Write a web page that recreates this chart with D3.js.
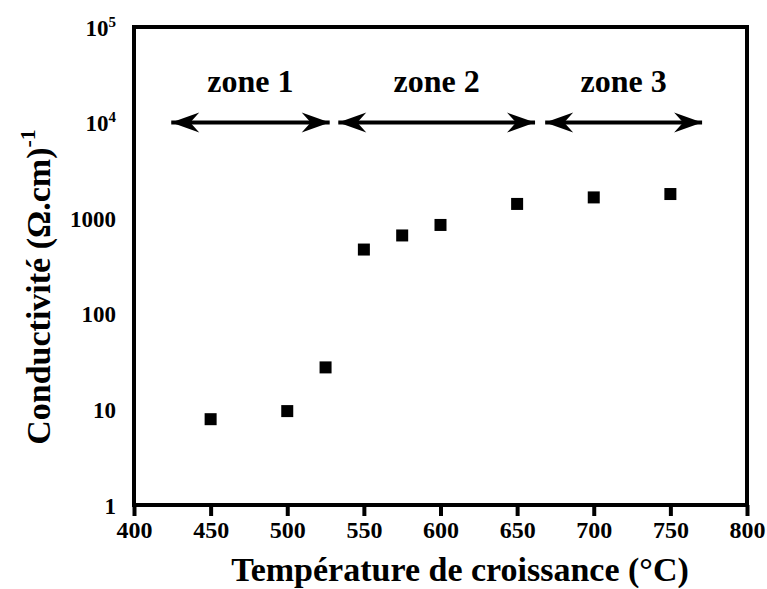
<!DOCTYPE html>
<html><head><meta charset="utf-8">
<script src="https://cdn.jsdelivr.net/npm/d3@7"></script>
<style>
html,body{margin:0;padding:0;background:#fff;}
svg text{font-family:"Liberation Serif","Times New Roman",serif;font-weight:bold;fill:#000;}
</style></head>
<body>
<svg id="chart" width="767" height="589"></svg>
<script>
const temperatures = [450, 500, 525, 550, 575, 600, 650, 700, 750];
const conductivity = [7.9, 9.6, 27.5, 470, 660, 850, 1410, 1650, 1790];
const xTickValues = [400, 450, 500, 550, 600, 650, 700, 750, 800];
const yTickValues = [1, 10, 100, 1000, 1e4, 1e5];
const yTickLabels = ["1", "10", "100", "1000", "10^4", "10^5"];
const zoneNames = ["zone 1", "zone 2", "zone 3"];
const zoneStarts = [423, 532, 667];
const zoneEnds = [529, 663, 772];
const zoneLevel = 1e4;

const svg = d3.select("#chart");
const L = 134, R = 747, T = 27, B = 505;
const x = d3.scaleLinear().domain([400, 800]).range([L, R]);
const y = d3.scaleLog().domain([1, 1e5]).range([B, T]);

// frame
svg.append("rect").attr("x", L).attr("y", T).attr("width", R - L).attr("height", B - T)
  .attr("fill", "none").attr("stroke", "#000").attr("stroke-width", 4);

// x axis
const xAxis = d3.axisBottom(x).tickValues(xTickValues).tickSize(11).tickPadding(5).tickFormat(d3.format("d"));
const gx = svg.append("g").attr("transform", `translate(0,${B})`).call(xAxis);
gx.select(".domain").remove();
gx.selectAll(".tick line").attr("stroke", "#000").attr("stroke-width", 4);
gx.selectAll(".tick text").attr("font-size", 24).attr("font-family", "Liberation Serif").attr("font-weight", "bold").attr("fill", "#000");

// y axis (labels only)
const yAxis = d3.axisLeft(y).tickValues(yTickValues).tickSize(0).tickPadding(18).tickFormat(() => "");
const gy = svg.append("g").attr("transform", `translate(${L},0)`).call(yAxis);
gy.select(".domain").remove();
gy.selectAll(".tick text").each(function(d, i) {
  const t = d3.select(this).attr("font-size", 23).attr("font-family", "Liberation Serif")
    .attr("font-weight", "bold").attr("fill", "#000").attr("dy", "0.35em");
  const lab = yTickLabels[i];
  if (lab.includes("^")) {
    const [b, e] = lab.split("^");
    t.append("tspan").text(b);
    t.append("tspan").text(e).attr("font-size", 15).attr("dy", "-0.6em");
  } else {
    t.text(lab);
  }
});

// data squares
const sz = 12;
svg.append("g").selectAll("rect").data(temperatures).join("rect")
  .attr("x", (d) => x(d) - sz / 2)
  .attr("y", (d, i) => y(conductivity[i]) - sz / 2)
  .attr("width", sz).attr("height", sz).attr("fill", "#000");

// arrows
const defs = svg.append("defs");
function head(id, orient) {
  defs.append("marker").attr("id", id).attr("viewBox", "-30 -12 32 24")
    .attr("refX", 0).attr("refY", 0).attr("markerWidth", 32).attr("markerHeight", 24)
    .attr("markerUnits", "userSpaceOnUse").attr("orient", orient)
    .append("path").attr("d", "M0,0 L-28,-10 L-19,0 L-28,10 Z").attr("fill", "#000");
}
head("ah", "auto");
head("ahs", "auto-start-reverse");
const zg = svg.append("g");
zoneNames.forEach((name, i) => {
  const x1 = x(zoneStarts[i]), x2 = x(zoneEnds[i]), yy = y(zoneLevel);
  zg.append("line").attr("x1", x1 + 2).attr("x2", x2 - 2).attr("y1", yy).attr("y2", yy)
    .attr("stroke", "#000").attr("stroke-width", 4)
    .attr("marker-start", "url(#ahs)").attr("marker-end", "url(#ah)");
  zg.append("text").attr("x", (x1 + x2) / 2).attr("y", yy - 31).attr("text-anchor", "middle")
    .attr("font-size", 32).text(name);
});

// axis titles
svg.append("text").attr("x", 460).attr("y", 581).attr("text-anchor", "middle")
  .attr("font-size", 34).text("Température de croissance (°C)");
const yt = svg.append("text").attr("transform", "translate(50,287) rotate(-90)")
  .attr("text-anchor", "middle").attr("font-size", 34);
yt.append("tspan").text("Conductivité (Ω.cm)");
yt.append("tspan").text("-1").attr("font-size", 22).attr("dy", "-0.7em");
</script>
</body></html>
